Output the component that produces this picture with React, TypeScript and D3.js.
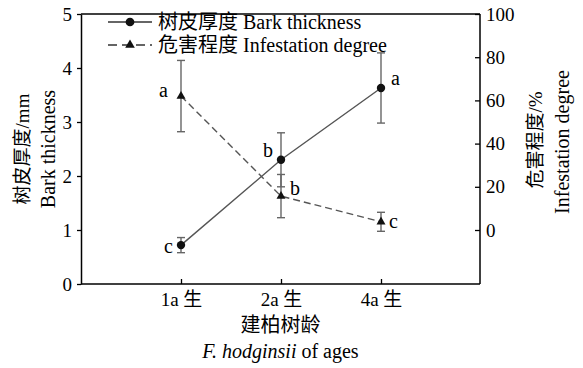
import React, { useEffect, useRef } from "react";
import * as d3 from "d3";

const categories = ["1a 生", "2a 生", "4a 生"];
const barkThickness = [0.72, 2.3, 3.63];
const barkError = [0.14, 0.5, 0.65];
const barkLetters = ["c", "b", "a"];
const infestation = [62, 15.7, 3.8];
const infestationError = [16.5, 10, 4.4];
const infestationLetters = ["a", "b", "c"];
const leftTicks = [0, 1, 2, 3, 4, 5];
const rightTicks = [0, 20, 40, 60, 80, 100];
const legendLabels = ["树皮厚度 Bark thickness", "危害程度 Infestation degree"];

const W = 583, H = 368;
const M = { left: 81, right: 480, top: 14, bottom: 284 };
const FONT = "'Liberation Serif', 'Times New Roman', 'Noto Sans CJK SC', serif";

const barkOffsets = [[-8, 1, "end"], [-8, -9, "end"], [10, -10, "start"]];
const infOffsets = [[-13, -6, "end"], [9, -8, "start"], [8, 0, "start"]];

export default function App() {
  const ref = useRef<SVGSVGElement>(null);
  useEffect(() => {
    const svg = d3.select(ref.current);
    svg.selectAll("*").remove();
    const x = d3.scalePoint<string>().domain(categories).range([M.left, M.right + 1]).padding(1);
    const yL = d3.scaleLinear().domain([0, 5]).range([M.bottom, M.top]);
    const yR = d3.scaleLinear().domain([-25, 100]).range([M.bottom, M.top]);

    const styleAxis = (g: any) => {
      g.selectAll("path").attr("stroke", "#000").attr("stroke-width", 1.5);
      g.selectAll("line").attr("stroke", "#000").attr("stroke-width", 1.3);
      g.selectAll("text").attr("font-family", FONT).attr("font-size", 19).attr("fill", "#000");
    };

    // top border
    svg.append("line").attr("x1", M.left).attr("x2", M.right).attr("y1", M.top).attr("y2", M.top)
      .attr("stroke", "#000").attr("stroke-width", 1.5);

    const gx = svg.append("g").attr("transform", `translate(0,${M.bottom})`)
      .call(d3.axisBottom(x).tickSizeInner(-5).tickSizeOuter(0).tickPadding(9));
    gx.select("path").attr("d", `M${M.left},0H${M.right}`);
    styleAxis(gx);

    const gl = svg.append("g").attr("transform", `translate(${M.left},0)`)
      .call(d3.axisLeft(yL).tickValues(leftTicks).tickFormat(d3.format("d")).tickSizeInner(4).tickSizeOuter(0).tickPadding(5));
    styleAxis(gl);

    const gr = svg.append("g").attr("transform", `translate(${M.right},0)`)
      .call(d3.axisRight(yR).tickValues(rightTicks).tickFormat(d3.format("d")).tickSizeInner(-5).tickSizeOuter(0).tickPadding(6));
    gr.select("path").attr("d", `M0,${M.top}V${M.bottom}`);
    styleAxis(gr);

    // series
    const drawSeries = (vals: number[], errs: number[], y: any, dashed: boolean) => {
      const line = d3.line<number>().x((_, i) => x(categories[i])!).y((d) => y(d));
      svg.append("path").attr("d", line(vals)!).attr("fill", "none").attr("stroke", "#555")
        .attr("stroke-width", 1.4).attr("stroke-dasharray", dashed ? "7,4" : null);
      vals.forEach((v, i) => {
        const cx = x(categories[i])!;
        const g = svg.append("g").attr("stroke", "#666").attr("stroke-width", 1.4);
        g.append("line").attr("x1", cx).attr("x2", cx).attr("y1", y(v - errs[i])).attr("y2", y(v + errs[i]));
        g.append("line").attr("x1", cx - 4).attr("x2", cx + 4).attr("y1", y(v - errs[i])).attr("y2", y(v - errs[i]));
        g.append("line").attr("x1", cx - 4).attr("x2", cx + 4).attr("y1", y(v + errs[i])).attr("y2", y(v + errs[i]));
      });
    };
    drawSeries(barkThickness, barkError, yL, false);
    drawSeries(infestation, infestationError, yR, true);

    const sym = d3.symbol();
    barkThickness.forEach((v, i) => {
      svg.append("path").attr("d", sym.type(d3.symbolCircle).size(55)()!)
        .attr("transform", `translate(${x(categories[i])},${yL(v)})`).attr("fill", "#111");
    });
    infestation.forEach((v, i) => {
      svg.append("path").attr("d", sym.type(d3.symbolTriangle).size(35)()!)
        .attr("transform", `translate(${x(categories[i])},${yR(v)})`).attr("fill", "#111");
    });

    const letters = (vals: number[], lets: string[], y: any, offs: any[]) => {
      vals.forEach((v, i) => {
        svg.append("text").attr("x", x(categories[i])! + offs[i][0]).attr("y", y(v) + offs[i][1])
          .attr("dy", "0.33em").attr("text-anchor", offs[i][2]).attr("font-family", FONT)
          .attr("font-size", 20).text(lets[i]);
      });
    };
    letters(barkThickness, barkLetters, yL, barkOffsets);
    letters(infestation, infestationLetters, yR, infOffsets);

    // legend
    const lg = svg.append("g");
    const rows = [22, 45];
    lg.append("line").attr("x1", 108).attr("x2", 152).attr("y1", rows[0]).attr("y2", rows[0])
      .attr("stroke", "#333").attr("stroke-width", 1.5);
    lg.append("path").attr("d", sym.type(d3.symbolCircle).size(60)()!).attr("transform", `translate(130,${rows[0]})`).attr("fill", "#111");
    lg.append("line").attr("x1", 108).attr("x2", 152).attr("y1", rows[1]).attr("y2", rows[1])
      .attr("stroke", "#333").attr("stroke-width", 1.5).attr("stroke-dasharray", "9,5");
    lg.append("path").attr("d", sym.type(d3.symbolTriangle).size(40)()!).attr("transform", `translate(130,${rows[1]})`).attr("fill", "#111");
    legendLabels.forEach((t, i) => {
      lg.append("text").attr("x", 158).attr("y", rows[i]).attr("dy", "0.35em")
        .attr("font-family", FONT).attr("font-size", 20).text(t);
    });

    // axis titles
    const lc = (M.top + M.bottom) / 2;
    svg.append("text").attr("transform", `translate(22,${lc}) rotate(-90)`).attr("text-anchor", "middle")
      .attr("dy", "0.35em").attr("font-family", FONT).attr("font-size", 19).text("树皮厚度/mm");
    svg.append("text").attr("transform", `translate(48,${lc}) rotate(-90)`).attr("text-anchor", "middle")
      .attr("dy", "0.35em").attr("font-family", FONT).attr("font-size", 20).text("Bark thickness");
    svg.append("text").attr("transform", `translate(535,140) rotate(-90)`).attr("text-anchor", "middle")
      .attr("dy", "0.35em").attr("font-family", FONT).attr("font-size", 19).text("危害程度/%");
    svg.append("text").attr("transform", `translate(562,142) rotate(-90)`).attr("text-anchor", "middle")
      .attr("dy", "0.35em").attr("font-family", FONT).attr("font-size", 20).text("Infestation degree");

    const cx = (M.left + M.right) / 2;
    svg.append("text").attr("x", cx).attr("y", 325).attr("dy", "0.35em").attr("text-anchor", "middle")
      .attr("font-family", FONT).attr("font-size", 20).text("建柏树龄");
    const t2 = svg.append("text").attr("x", cx).attr("y", 351).attr("dy", "0.35em").attr("text-anchor", "middle")
      .attr("font-family", FONT).attr("font-size", 20);
    t2.append("tspan").attr("font-style", "italic").text("F. hodginsii");
    t2.append("tspan").text(" of ages");
  }, []);
  return (
    <svg ref={ref} width={W} height={H} style={{ position: "absolute", left: 0, top: 0, background: "#fff" }} />
  );
}
